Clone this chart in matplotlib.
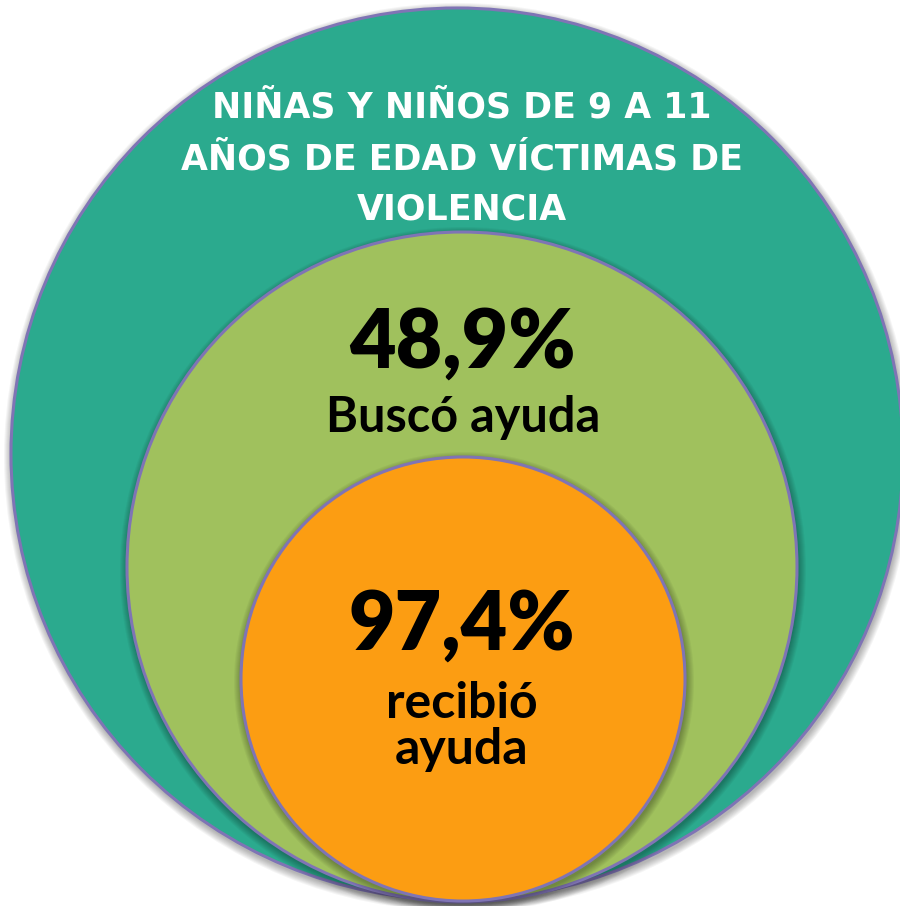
import matplotlib
matplotlib.use('Agg')
import matplotlib.pyplot as plt
from matplotlib.patches import Circle

# datos
titulo = ['NIÑAS Y NIÑOS DE 9 A 11', 'AÑOS DE EDAD VÍCTIMAS DE', 'VIOLENCIA']
porcentajes = ['48,9%', '97,4%']
etiquetas = [['Buscó ayuda'], ['recibió', 'ayuda']]

# circulos (centro x, centro y, radio) en pixeles de la imagen
circulos = [(457, 454, 446), (462, 567, 335), (463, 679, 222)]
colores = ['#2BAA8E', '#A0C15D', '#FC9D12']
borde = '#7F74B5'

fig = plt.figure(figsize=(9, 9.06), dpi=100)
ax = fig.add_axes([0, 0, 1, 1])
ax.set_xlim(0, 900)
ax.set_ylim(906, 0)
ax.set_aspect('equal')
ax.axis('off')

for i, (cx, cy, r) in enumerate(circulos):
    # sombra difusa debajo de cada circulo
    for k in range(8):
        ax.add_patch(Circle((cx + 1, cy + 3), r + 8 - k, color='black',
                            alpha=0.04, lw=0, zorder=i * 2))
    ax.add_patch(Circle((cx, cy), r, facecolor=colores[i], edgecolor=borde,
                        lw=2.2, zorder=i * 2 + 1))

# titulo
base_titulo = [118, 170, 220]
for linea, y in zip(titulo, base_titulo):
    ax.text(462, y, linea, color='white', fontsize=25, fontweight='bold',
            family='DejaVu Sans', ha='center', va='baseline', zorder=10)

# porcentajes y etiquetas
ax.text(462, 368, porcentajes[0], fontsize=58, fontweight='heavy',
        family='Lato', ha='center', va='baseline', zorder=10)
ax.text(463, 432, etiquetas[0][0], fontsize=35, fontweight='bold',
        family='Lato', ha='center', va='baseline', zorder=10)

ax.text(462, 650, porcentajes[1], fontsize=58, fontweight='heavy',
        family='Lato', ha='center', va='baseline', zorder=10)
for linea, y in zip(etiquetas[1], [718, 764]):
    ax.text(462, y, linea, fontsize=36, fontweight='bold',
            family='Lato', ha='center', va='baseline', zorder=10)

plt.savefig('out.png', dpi=100)
